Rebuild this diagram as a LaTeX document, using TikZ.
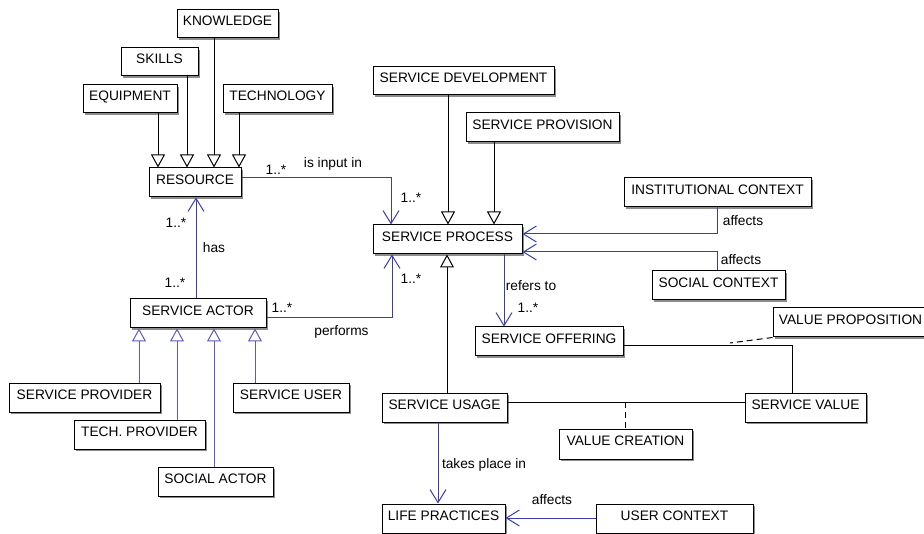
\documentclass[tikz,border=0pt]{standalone}
\usepackage{fontspec}
\setmainfont{Liberation Sans}
\usetikzlibrary{arrows.meta,shadows}
\definecolor{assoc}{RGB}{60,60,175}
\definecolor{genb}{RGB}{90,90,200}
\begin{document}
\begin{tikzpicture}[x=0.75pt,y=-0.75pt, line width=0.75pt,
 wh/.style 2 args={minimum width=#1*0.75pt, minimum height=#2*0.75pt},
 box/.style={draw=black, fill=white, inner sep=0pt, text height=7.5pt, text depth=4.6pt,
   font=\fontsize{10.3}{12}\selectfont,
   drop shadow={shadow xshift=1.3pt, shadow yshift=-1.3pt, fill=black!45, opacity=1}},
 lbl/.style={inner sep=0pt, font=\fontsize{10.3}{12}\selectfont},
 gen/.style={draw=black, -{Triangle[open,length=9.75pt,width=10.5pt]}},
 subgen/.style={draw=genb, -{Triangle[open,length=9.75pt,width=10.5pt]}},
 assocline/.style={draw=assoc, -{Straight Barb[length=9.75pt,width=12pt]}},
 plainline/.style={draw=black},
 dashline/.style={draw=black, dash pattern=on 4.5pt off 3pt}
]
\useasboundingbox (0,0) rectangle (924,534);

% boxes
\node[box, wh={101}{28}] (know) at (227.5,24) {KNOWLEDGE};
\node[box, wh={77}{28}] (skills) at (159.5,62) {SKILLS};
\node[box, wh={94}{28}] (equip) at (130,99) {EQUIPMENT};
\node[box, wh={109}{28}] (tech) at (277.5,99) {TECHNOLOGY};
\node[box, wh={92}{29}] (res) at (195,182.5) {RESOURCE};
\node[box, wh={181}{28}] (sdev) at (463.5,81) {SERVICE DEVELOPMENT};
\node[box, wh={153}{29}] (sprov) at (542.5,127.5) {SERVICE PROVISION};
\node[box, wh={187}{29}] (inst) at (717.5,192.5) {INSTITUTIONAL CONTEXT};
\node[box, wh={149}{29}] (sproc) at (447.5,239.5) {SERVICE PROCESS};
\node[box, wh={133}{29}] (social) at (718.5,285.5) {SOCIAL CONTEXT};
\node[box, wh={155}{29}] (vprop) at (850.5,322.5) {VALUE PROPOSITION};
\node[box, wh={148}{29}] (soff) at (549,341.5) {SERVICE OFFERING};
\node[box, wh={136}{29}] (sactor) at (198,313.5) {SERVICE ACTOR};
\node[box, wh={151}{29}] (sprovider) at (84.5,397.5) {SERVICE PROVIDER};
\node[box, wh={131}{29}] (tprov) at (139.5,434.5) {TECH. PROVIDER};
\node[box, wh={115}{29}] (soca) at (215.5,481.5) {SOCIAL ACTOR};
\node[box, wh={116}{29}] (suser) at (291,397.5) {SERVICE USER};
\node[box, wh={125}{29}] (susage) at (444.5,407.5) {SERVICE USAGE};
\node[box, wh={121}{29}] (sval) at (805.5,407.5) {SERVICE VALUE};
\node[box, wh={133}{30}] (vcreate) at (625.5,444) {VALUE CREATION};
\node[box, wh={123}{29}] (life) at (443.5,518.5) {LIFE PRACTICES};
\node[box, wh={157}{29}] (uctx) at (674.5,518.5) {USER CONTEXT};

% helper coordinates
\coordinate (x139) at (139,0);
\coordinate (x158) at (158,0);
\coordinate (x177) at (177,0);
\coordinate (x187) at (187,0);
\coordinate (x196) at (196,0);
\coordinate (x214) at (214,0);
\coordinate (x239) at (239,0);
\coordinate (x255) at (255,0);
\coordinate (x391) at (391,0);
\coordinate (x392) at (392,0);
\coordinate (x438) at (438,0);
\coordinate (x447) at (447,0);
\coordinate (x448) at (448,0);
\coordinate (x494) at (494,0);
\coordinate (x504) at (504,0);
\coordinate (x717) at (717,0);
\coordinate (x792) at (792,0);
\coordinate (y178) at (0,178);
\coordinate (y234) at (0,234);
\coordinate (y252) at (0,252);
\coordinate (y318) at (0,318);
\coordinate (y346) at (0,346);
\coordinate (y402) at (0,402);
\coordinate (y518) at (0,518);
\coordinate (vpj) at (730,343);
\coordinate (vcj) at (625,402);

% generalisations
\draw[gen] (equip.south -| x158) -- (res.north -| x158);
\draw[gen] (skills.south -| x187) -- (res.north -| x187);
\draw[gen] (know.south -| x214) -- (res.north -| x214);
\draw[gen] (tech.south -| x239) -- (res.north -| x239);
\draw[gen] (sdev.south -| x448) -- (sproc.north -| x448);
\draw[gen] (sprov.south -| x494) -- (sproc.north -| x494);
\draw[gen] (susage.north -| x447) -- (sproc.south -| x447);
\draw[subgen] (sprovider.north -| x139) -- (sactor.south -| x139);
\draw[subgen] (tprov.north -| x177) -- (sactor.south -| x177);
\draw[subgen] (soca.north -| x214) -- (sactor.south -| x214);
\draw[subgen] (suser.north -| x255) -- (sactor.south -| x255);

% associations
\draw[assocline] (res.east |- y178) -- (x391 |- y178) -- (sproc.north -| x391);
\draw[assocline] (inst.south -| x717) -- (x717 |- y234) -- (sproc.east |- y234);
\draw[assocline] (social.north -| x717) -- (x717 |- y252) -- (sproc.east |- y252);
\draw[assocline] (sproc.south -| x504) -- (soff.north -| x504);
\draw[assocline] (sactor.north -| x196) -- (res.south -| x196);
\draw[assocline] (sactor.east |- y318) -- (x392 |- y318) -- (sproc.south -| x392);
\draw[assocline] (susage.south -| x438) -- (life.north -| x438);
\draw[assocline] (uctx.west |- y518) -- (life.east |- y518);
\draw[plainline] (soff.east |- y346) -- (x792 |- y346) -- (sval.north -| x792);
\draw[plainline] (susage.east |- y402) -- (sval.west |- y402);
\draw[dashline] (vprop.south west) -- (vpj);
\draw[dashline] (vcj) -- (vcreate.north -| vcj);

% labels
\node[lbl] (l1) at (276,170) {1..*};
\node[lbl] (l2) at (333,164) {is input in};
\node[lbl] (l3) at (411,198) {1..*};
\node[lbl] (l4) at (743,221) {affects};
\node[lbl] (l5) at (741,260) {affects};
\node[lbl] (l6) at (531,286) {refers to};
\node[lbl] (l7) at (528,308) {1..*};
\node[lbl] (l8) at (411,279) {1..*};
\node[lbl] (l9) at (341.5,332) {performs};
\node[lbl] (l10) at (282,308) {1..*};
\node[lbl] (l11) at (175,283) {1..*};
\node[lbl] (l12) at (214,248) {has};
\node[lbl] (l13) at (176,223) {1..*};
\node[lbl] (l14) at (484,465) {takes place in};
\node[lbl] (l15) at (552,500) {affects};
\end{tikzpicture}
\end{document}
